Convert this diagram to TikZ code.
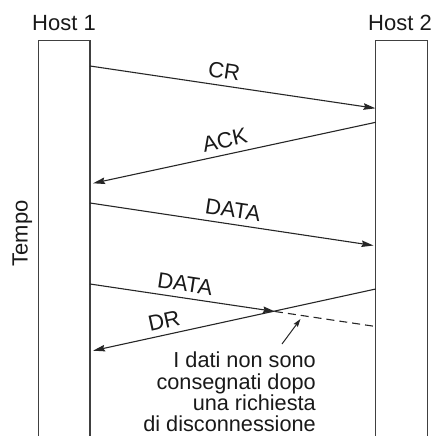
\documentclass[tikz,border=0pt]{standalone}
\usepackage{fontspec}
\setmainfont{Liberation Sans}
\usetikzlibrary{arrows.meta}

\begin{document}
\begin{tikzpicture}[x=1pt,y=-1pt,
  lifeline/.style={draw=black!75, line width=1.1pt, minimum width=51.4pt,
    minimum height=410pt, inner sep=0pt, anchor=north},
  msg/.style={draw=black!85, line width=1.1pt,
    -{Stealth[length=12pt,width=6.5pt,inset=1.5pt]}},
  lost/.style={draw=black!85, line width=1.1pt, dash pattern=on 8pt off 5pt},
  pointer/.style={draw=black!85, line width=1pt,
    -{Stealth[length=8pt,width=5pt,inset=1pt]}},
  txt/.style={font=\fontsize{22}{21.3}\selectfont, text=black!90, inner sep=0pt},
  lbl/.style={txt, sloped, above=6pt},
]
\useasboundingbox (0,0) rectangle (433,436);

% the two hosts
\node[lifeline] (h1) at (64.25,40) {};
\node[lifeline] (h2) at (401.35,40) {};
\node[txt, anchor=base] (h1name) at (64,31) {Host 1};
\node[txt, anchor=base] (h2name) at (400,31) {Host 2};
\node[txt, anchor=base, rotate=90] (tempo) at (27.5,233.5) {Tempo};

% message end points on the hosts
\coordinate (crA) at (90,66);      \coordinate (crB) at (375.5,108.3);
\coordinate (ackA) at (375.7,122.3); \coordinate (ackB) at (93,183.3);
\coordinate (daA) at (90,203);     \coordinate (daB) at (373.5,245.5);
\coordinate (dbA) at (90,284);     \coordinate (dbB) at (275,311.5);
\coordinate (dbEnd) at (375.7,326.5);
\coordinate (drA) at (375.7,289);  \coordinate (drB) at (93,350.7);

% messages
\draw[msg] (crA) -- node[lbl, pos=0.463] (crL) {CR} (crB);
\draw[msg] (ackA) -- node[lbl, pos=0.523] (ackL) {ACK} (ackB);
\draw[msg] (daA) -- node[lbl, pos=0.497] (daL) {DATA} (daB);
\draw[msg] (dbA) -- node[lbl, pos=0.503] (dbL) {DATA} (dbB);
\draw[lost] (dbB) -- (dbEnd);
\draw[msg] (drA) -- node[lbl, pos=0.738] (drL) {DR} (drB);

% note on the lost data
\node[txt, font=\fontsize{21.7}{21.3}\selectfont, anchor=north east, align=right]
  (note) at (316,352)
  {I dati non sono\\consegnati dopo\\una richiesta\\di disconnessione};
\coordinate (noteTail) at (282,344);
\coordinate (noteTip) at (300.5,319);
\draw[pointer] (noteTail) -- (noteTip);
\end{tikzpicture}
\end{document}
